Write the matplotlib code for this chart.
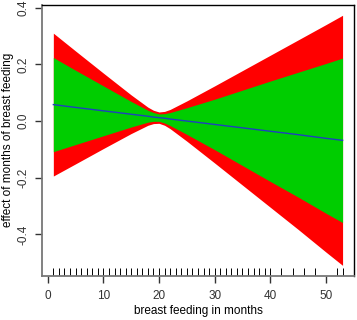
import matplotlib
matplotlib.use('Agg')
import matplotlib.pyplot as plt

plt.rcParams['font.family'] = ['Liberation Sans', 'DejaVu Sans']

months = [1, 5, 10, 15, 18, 19, 20, 21, 22, 25, 30, 35, 40, 45, 50, 53]
effect = [0.058, 0.048, 0.036, 0.024, 0.017, 0.014, 0.012, 0.010, 0.007, 0.000,
          -0.012, -0.024, -0.036, -0.048, -0.061, -0.068]
red_upper = [0.310, 0.247, 0.169, 0.092, 0.049, 0.038, 0.032, 0.034, 0.041, 0.071,
             0.124, 0.178, 0.232, 0.286, 0.340, 0.373]
red_lower = [-0.194, -0.151, -0.097, -0.044, -0.015, -0.009, -0.008, -0.015, -0.027, -0.071,
             -0.148, -0.226, -0.304, -0.382, -0.462, -0.509]
green_upper = [0.224, 0.179, 0.124, 0.069, 0.038, 0.030, 0.025, 0.026, 0.030, 0.047,
               0.077, 0.109, 0.141, 0.172, 0.203, 0.222]
green_lower = [-0.108, -0.083, -0.052, -0.021, -0.004, -0.001, -0.001, -0.007, -0.016, -0.047,
               -0.101, -0.157, -0.213, -0.268, -0.325, -0.358]

# observed breast feeding durations (rug)
rug_months = list(range(1, 41)) + [42, 44, 46, 48, 52, 53]

fig = plt.figure(figsize=(3.57, 3.2), dpi=100)
ax = fig.add_axes([0.117, 0.138, 0.875, 0.847])

ax.fill_between(months, red_lower, red_upper, color='#ff0000', lw=0)
ax.fill_between(months, green_lower, green_upper, color='#00cd00', lw=0)
ax.plot(months, effect, color='#1f3fbf', lw=1)

ax.vlines(rug_months, 0, 0.028, transform=ax.get_xaxis_transform(), color='black', lw=0.7)

ax.set_xlim(-1.08, 55.08)
ax.set_ylim(-0.546, 0.41)
ax.set_xticks([0, 10, 20, 30, 40, 50])
ax.set_yticks([-0.4, -0.2, 0.0, 0.2, 0.4])
ax.set_yticklabels(['-0.4', '-0.2', '0.0', '0.2', '0.4'], rotation=90, va='center')
ax.tick_params(labelsize=8.5, length=5, width=1, colors='#333333')
ax.tick_params(axis='x', pad=5)
ax.tick_params(axis='y', pad=4)

for side in ['top', 'right']:
    ax.spines[side].set_color('black')
    ax.spines[side].set_linewidth(1)
for side in ['left', 'bottom']:
    ax.spines[side].set_color('#777777')
    ax.spines[side].set_linewidth(1.3)

ax.set_xlabel('breast feeding in months', fontsize=8.5, labelpad=2)
ax.set_ylabel('effect of months of breast feeding', fontsize=8.5, labelpad=2)

fig.savefig('out.png', dpi=100)
